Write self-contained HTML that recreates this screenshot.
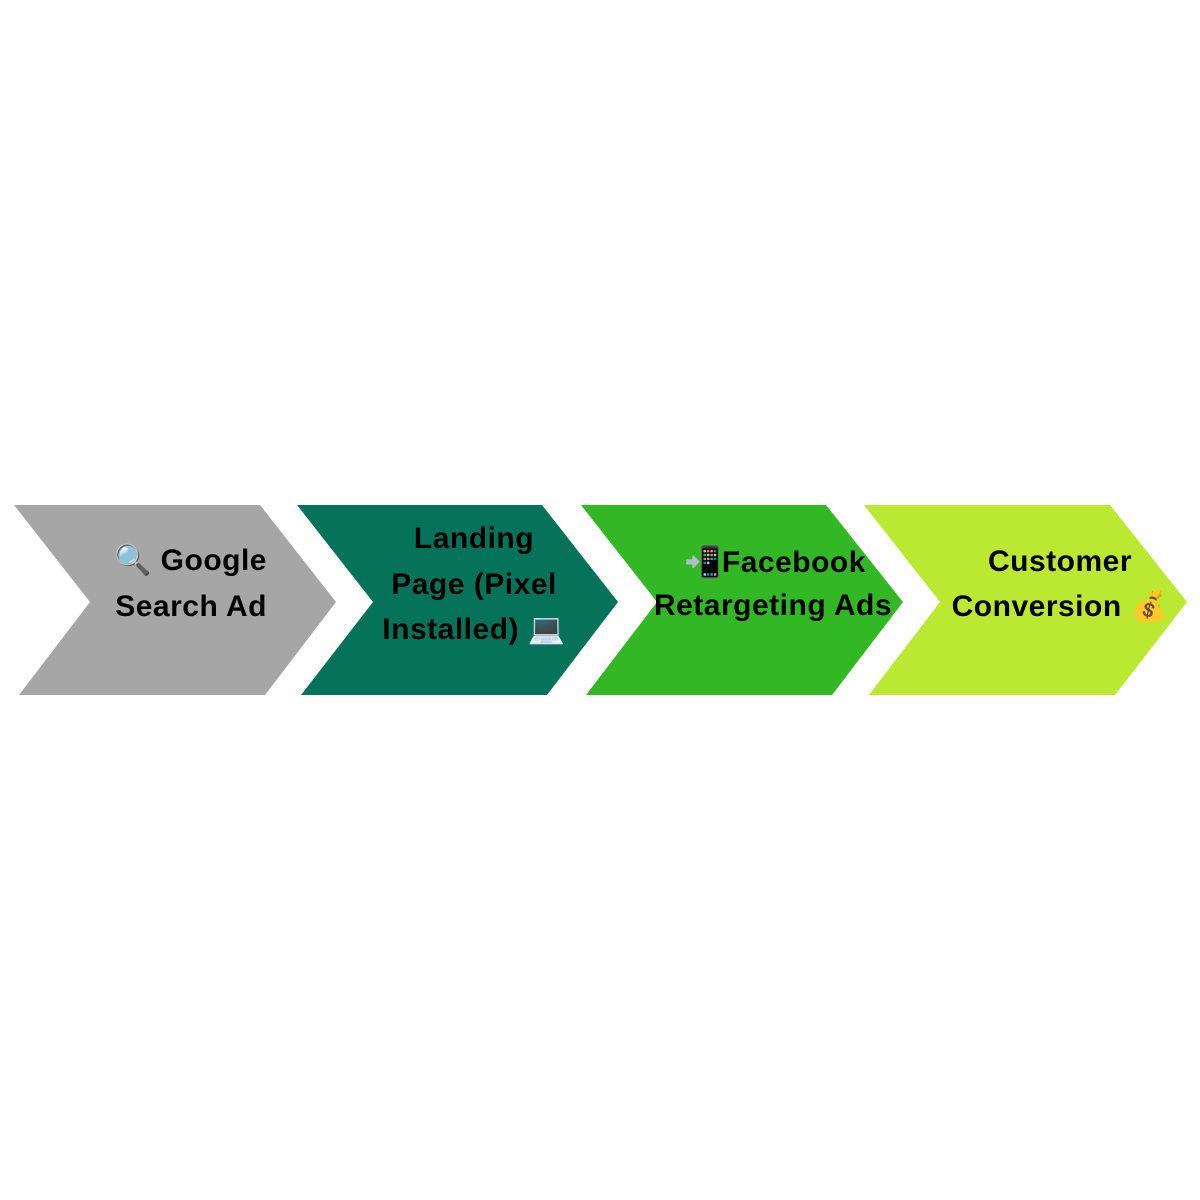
<!DOCTYPE html>
<html><head><meta charset="utf-8"><style>
html,body{margin:0;padding:0;background:#fff;width:1200px;height:1200px;overflow:hidden}
.t{position:absolute;font-family:"Liberation Sans","DejaVu Sans",sans-serif;font-weight:bold;font-size:30px;letter-spacing:0.5px;color:#000;white-space:nowrap;line-height:46px;text-align:center}
</style></head><body>
<svg width="1200" height="1200" style="position:absolute;left:0;top:0">
<polygon points="14,505 260,505 336,602 265,695 19,695 90,602" fill="#a6a6a6"/>
<polygon points="297,505 542,505 618,602 547,695 301,695 373,602" fill="#05735a"/>
<polygon points="581,505 826,505 903,602 832,695 586,695 657,602" fill="#33b825"/>
<polygon points="864,505 1110,505 1187,602 1115,695 869,695 940,602" fill="#bbe830"/>
</svg>
<div class="t" style="left:67px;top:538px;width:200px;text-align:right">🔍 Google</div>
<div class="t" style="left:67px;top:584px;width:200px;text-align:right">Search Ad</div>
<div class="t" style="left:374px;top:516px;width:200px">Landing</div>
<div class="t" style="left:364px;top:562px;width:220px">Page (Pixel</div>
<div class="t" style="left:364px;top:607px;width:220px">Installed) 💻</div>
<div class="t" style="left:650px;top:540px;width:250px">📲Facebook</div>
<div class="t" style="left:648px;top:583px;width:250px">Retargeting Ads</div>
<div class="t" style="left:940px;top:539px;width:240px">Customer</div>
<div class="t" style="left:935px;top:584px;width:250px">Conversion 💰</div>
</body></html>
